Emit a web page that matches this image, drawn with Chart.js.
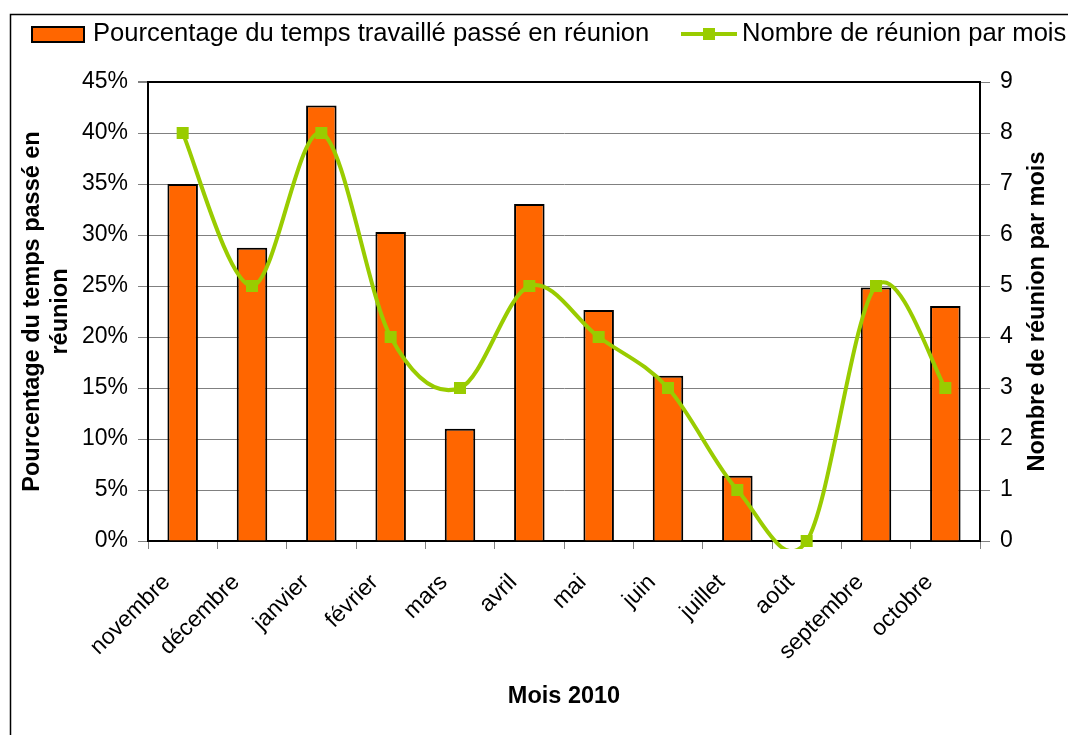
<!DOCTYPE html>
<html>
<head>
<meta charset="utf-8">
<script src="https://cdn.jsdelivr.net/npm/chart.js@4.4.1/dist/chart.umd.min.js"></script>
<style>
  html, body { margin: 0; padding: 0; background: #ffffff; }
  #wrap { width: 1068px; height: 735px; position: relative; }
</style>
</head>
<body>
<div id="wrap"><canvas id="c" width="1068" height="735"></canvas></div>
<script>
// ---- data ----
const months = ['novembre', 'décembre', 'janvier', 'février', 'mars', 'avril', 'mai', 'juin', 'juillet', 'août', 'septembre', 'octobre'];
const pctTimeInMeetings = [35, 28.75, 42.7, 30.3, 11, 33.05, 22.65, 16.2, 6.4, 0, 24.85, 23.05];
const meetingsPerMonth = [8, 5, 8, 4, 3, 5, 4, 3, 1, 0, 5, 3];
const pctAxisRange = [0, 45, 5];
const countAxisRange = [0, 9, 1];
const barLabel = 'Pourcentage du temps travaillé passé en réunion';
const lineLabel = 'Nombre de réunion par mois';
const leftTitle = ['Pourcentage du temps passé en', 'réunion'];
const rightTitle = 'Nombre de réunion par mois';
const xTitle = 'Mois 2010';

const ORANGE = '#FF6600';
const GREEN = '#99CC00';
const GRID = '#808080';
const FONT = "'Liberation Sans', Arial, sans-serif";

// Excel-style smoothing (Catmull-Rom control points) applied to the points placed by the scales
const excelSmooth = {
  id: 'excelSmooth',
  beforeDatasetDraw(chart, args) {
    const meta = args.meta;
    if (meta.type !== 'line') return;
    const line = meta.dataset;
    if (line && line.updateControlPoints) line.updateControlPoints(chart.chartArea, 'x');
    const pts = meta.data;
    const n = pts.length;
    for (let i = 0; i < n; i++) {
      const p = pts[i];
      const prev = pts[Math.max(0, i - 1)];
      const next = pts[Math.min(n - 1, i + 1)];
      const dx = (next.x - prev.x) / 6;
      const dy = (next.y - prev.y) / 6;
      p.cp1x = p.x - dx; p.cp1y = p.y - dy;
      p.cp2x = p.x + dx; p.cp2y = p.y + dy;
    }
    if (line) { line._path = undefined; }
  }
};

const framePlugin = {
  id: 'frame',
  beforeDraw(chart) {
    const ctx = chart.ctx;
    ctx.save();
    ctx.fillStyle = '#ffffff';
    ctx.fillRect(0, 0, chart.width, chart.height);
    ctx.strokeStyle = '#000000';
    ctx.lineWidth = 1.5;
    ctx.strokeRect(10.5, 14.5, 1200, 800);
    ctx.restore();
  },
  afterDraw(chart) {
    const ctx = chart.ctx;
    ctx.save();
    // legend
    ctx.font = '25.6px ' + FONT;
    ctx.textBaseline = 'middle';
    ctx.textAlign = 'left';
    ctx.fillStyle = ORANGE;
    ctx.fillRect(32, 27, 52, 15);
    ctx.strokeStyle = '#000';
    ctx.lineWidth = 2;
    ctx.strokeRect(32, 27, 52, 15);
    ctx.fillStyle = '#000';
    ctx.fillText(barLabel, 93, 34);
    ctx.strokeStyle = GREEN;
    ctx.lineWidth = 4;
    ctx.beginPath();
    ctx.moveTo(681, 34);
    ctx.lineTo(737, 34);
    ctx.stroke();
    ctx.fillStyle = GREEN;
    ctx.fillRect(703, 28, 12, 12);
    ctx.fillStyle = '#000';
    ctx.fillText(lineLabel, 742, 34);
    // right axis title (reads bottom to top)
    const ca = chart.chartArea;
    ctx.translate(1038, (ca.top + ca.bottom) / 2);
    ctx.rotate(-Math.PI / 2);
    ctx.font = 'bold 23.5px ' + FONT;
    ctx.textAlign = 'center';
    ctx.fillText(rightTitle, 0, 0);
    ctx.restore();
  }
};

new Chart(document.getElementById('c'), {
  data: {
    labels: months,
    datasets: [
      {
        type: 'line',
        label: lineLabel,
        data: meetingsPerMonth,
        yAxisID: 'y1',
        borderColor: GREEN,
        backgroundColor: GREEN,
        borderWidth: 4,
        tension: 0.4,
        pointStyle: 'rect',
        pointRadius: 8.5,
        pointHoverRadius: 8.5,
        pointBorderWidth: 0,
        pointBackgroundColor: GREEN,
        clip: { left: 10, top: 10, right: 10, bottom: 8 },
        order: 0
      },
      {
        type: 'bar',
        label: barLabel,
        data: pctTimeInMeetings,
        yAxisID: 'y',
        backgroundColor: ORANGE,
        borderColor: '#000000',
        borderWidth: 2,
        barPercentage: 0.44,
        categoryPercentage: 1,
        order: 1
      }
    ]
  },
  options: {
    responsive: false,
    animation: false,
    devicePixelRatio: 1,
    layout: { padding: { left: 10, top: 82, right: 0, bottom: 0 } },
    elements: { line: { capBezierPoints: false } },
    plugins: {
      legend: { display: false },
      tooltip: { enabled: false }
    },
    scales: {
      x: {
        type: 'category',
        offset: true,
        grid: { display: true, offset: true, drawOnChartArea: false, drawTicks: true, tickLength: 8, color: GRID, lineWidth: 1 },
        border: { display: true, color: '#000', width: 2 },
        ticks: {
          autoSkip: false, minRotation: 45, maxRotation: 45, padding: 20, labelOffset: -16,
          color: '#000', font: { family: FONT, size: 23 }
        },
        title: { display: true, text: xTitle, color: '#000', font: { family: FONT, size: 23.5, weight: 'bold' }, padding: { top: 0, bottom: 24 } },
        afterFit(scale) { scale.height = 194; }
      },
      y: {
        position: 'left',
        min: pctAxisRange[0], max: pctAxisRange[1],
        grid: {
          color: (c) => (c.tick && c.tick.value === pctAxisRange[1]) ? '#000' : GRID,
          lineWidth: (c) => (c.tick && c.tick.value === pctAxisRange[1]) ? 2 : 1,
          tickColor: GRID, tickLength: 10, drawTicks: true
        },
        border: { display: true, color: '#000', width: 2 },
        ticks: {
          stepSize: pctAxisRange[2], padding: 10, color: '#000',
          font: { family: FONT, size: 23 },
          callback: (v) => v + '%'
        },
        title: { display: true, text: leftTitle, color: '#000', font: { family: FONT, size: 23.5, weight: 'bold' }, padding: { top: 8, bottom: 0 } },
        afterFit(scale) { scale.width = 138; }
      },
      y1: {
        position: 'right',
        min: countAxisRange[0], max: countAxisRange[1],
        grid: { drawOnChartArea: false, tickColor: GRID, tickLength: 10, drawTicks: true },
        border: { display: true, color: '#000', width: 2 },
        ticks: { stepSize: countAxisRange[2], padding: 10, color: '#000', font: { family: FONT, size: 23 } },
        afterFit(scale) { scale.width = 88; }
      }
    }
  },
  plugins: [excelSmooth, framePlugin]
});
</script>
</body>
</html>
